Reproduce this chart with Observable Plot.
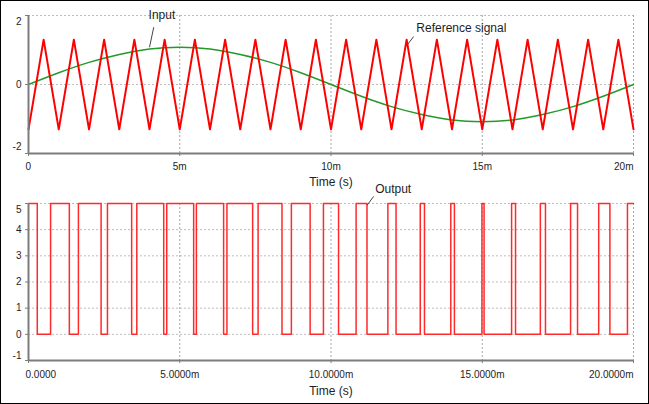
<!DOCTYPE html>
<html><head><meta charset="utf-8">
<script src="https://cdn.jsdelivr.net/npm/d3@7"></script>
<script src="https://cdn.jsdelivr.net/npm/@observablehq/plot@0.6"></script>
<style>
body{margin:0;background:#fff;}
#wrap{position:relative;width:649px;height:404px;overflow:hidden;background:#fff;}
#wrap svg{position:absolute;left:0;overflow:visible;}
#border{position:absolute;left:0;top:0;width:649px;height:404px;box-sizing:border-box;border:1px solid #000;pointer-events:none;z-index:5;}
</style></head><body>
<div id="wrap"><div id="border"></div></div>
<script>
// ---- data (time in ms) ----
const triTimes = [0,0.5,1,1.5,2,2.5,3,3.5,4,4.5,5,5.5,6,6.5,7,7.5,8,8.5,9,9.5,10,10.5,11,11.5,12,12.5,13,13.5,14,14.5,15,15.5,16,16.5,17,17.5,18,18.5,19,19.5,20];
const triValues = [-1.3,1.3,-1.3,1.3,-1.3,1.3,-1.3,1.3,-1.3,1.3,-1.3,1.3,-1.3,1.3,-1.3,1.3,-1.3,1.3,-1.3,1.3,-1.3,1.3,-1.3,1.3,-1.3,1.3,-1.3,1.3,-1.3,1.3,-1.3,1.3,-1.3,1.3,-1.3,1.3,-1.3,1.3,-1.3,1.3,-1.3];
const refTimes = [0,1,2,3,4,5,6,7,8,9,10,11,12,13,14,15,16,17,18,19,20];
const refValues = [0,0.34,0.64,0.87,1.03,1.08,1.03,0.87,0.64,0.34,0,-0.34,-0.64,-0.87,-1.03,-1.08,-1.03,-0.87,-0.64,-0.34,0];
const outTimes = [0,0.29,0.73,1.35,1.65,2.40,2.61,3.41,3.58,4.47,4.57,5.46,5.55,6.45,6.56,7.41,7.59,8.38,8.69,9.31,9.75,10.25,10.83,11.19,11.88,12.15,12.95,13.09,13.96,14.08,14.99,15.06,15.97,16.10,16.92,17.09,17.92,18.15,18.85,19.22,19.80,20];
const outLevels = [5,0,5,0,5,0,5,0,5,0,5,0,5,0,5,0,5,0,5,0,5,0,5,0,5,0,5,0,5,0,5,0,5,0,5,0,5,0,5,0,5,5];
const xTicks = [0,5,10,15,20];
const topXLabels = ["0","5m","10m","15m","20m"];
const bottomXLabels = ["0.0000","5.0000m","10.0000m","15.0000m","20.0000m"];
const topYTicks = [-2,0,2];
const bottomYTicks = [-1,0,1,2,3,4,5];
const xTitle = "Time (s)";
// annotations (anchor in data units)
const topNoteText = ["Input","Reference signal"];
const topNoteT = [3.97,12.82];
const topNoteV = [2.0,1.62];
const topLeadT1 = [4.14,12.73], topLeadV1 = [1.66,1.39], topLeadT2 = [4.0,12.51], topLeadV2 = [1.08,1.13];
const botNoteText = ["Output"];
const botNoteT = [11.46], botNoteV = [5.53];
const botLeadT1 = [11.41], botLeadV1 = [5.27], botLeadT2 = [11.19], botLeadV2 = [4.93];

const FONT = "Liberation Sans, Arial, sans-serif";
const AXIS = "#7c7c7c", GRID_H = "#bdbdbd", GRID_V = "#a6a6a6", TXT = "#1e1e1e";
const style = {background:"transparent", overflow:"visible", fontFamily:FONT, fontSize:"10px", color:TXT};

const triData = triTimes.map((t,i)=>({t, v:triValues[i]}));
const refData = refTimes.map((t,i)=>({t, v:refValues[i]}));
const outData = outTimes.map((t,i)=>({t, v:outLevels[i]}));
const idx = (arr)=>arr.map((_,i)=>i);
const plainNum = d => String(d);

function xAxisMarks(labels, pad){
  const f = d => labels[xTicks.indexOf(d)];
  const common = {tickSize:0, tickPadding:3+pad, tickFormat:f, fill:TXT, fontSize:10, label:null};
  return [
    Plot.axisX(xTicks, {tickSize:3, tickFormat:()=>"", stroke:AXIS, label:null}),
    Plot.axisX([xTicks[0]], {...common, textAnchor:"start", dx:-3}),
    Plot.axisX(xTicks.slice(1,-1), {...common}),
    Plot.axisX([xTicks[xTicks.length-1]], {...common, textAnchor:"end"})
  ];
}
function yAxisMarks(ticks, dTop, dBot){
  const common = {tickSize:0, tickPadding:7, tickFormat:plainNum, fill:TXT, fontSize:10, label:null};
  return [
    Plot.axisY(ticks, {tickSize:3, tickFormat:()=>"", stroke:AXIS, label:null}),
    Plot.axisY(ticks.slice(1,-1), common),
    Plot.axisY([ticks[ticks.length-1]], {...common, dy:dTop}),
    Plot.axisY([ticks[0]], {...common, dy:dBot})
  ];
}

const topPlot = Plot.plot({
  width:649, height:195,
  marginTop:15, marginBottom:42, marginLeft:28, marginRight:16,
  x:{domain:[0,20], axis:null, label:null},
  y:{domain:[-2,2], axis:null, label:null},
  style,
  marks:[
    Plot.ruleY([0,2], {stroke:GRID_H, strokeDasharray:"2,2"}),
    Plot.ruleX([5,10,15,20], {stroke:GRID_V, strokeDasharray:"2,2"}),
    Plot.line(refData, {x:"t", y:"v", stroke:"#23992a", strokeWidth:1.4, curve:"natural"}),
    Plot.line(triData, {x:"t", y:"v", stroke:"#ff0000", strokeWidth:2}),
    Plot.ruleX([0], {stroke:AXIS, strokeWidth:2}),
    Plot.ruleY([-2], {stroke:AXIS, strokeWidth:2}),
    ...xAxisMarks(topXLabels, 6.5),
    ...yAxisMarks(topYTicks, 6.7, -6.3),
    Plot.text([xTitle], {frameAnchor:"bottom", lineAnchor:"top", dy:23.5, fontSize:12, fill:TXT}),
    Plot.link(idx(topNoteText), {x1:i=>topLeadT1[i], y1:i=>topLeadV1[i], x2:i=>topLeadT2[i], y2:i=>topLeadV2[i], stroke:"#444", strokeWidth:1}),
    Plot.text(idx(topNoteText), {x:i=>topNoteT[i], y:i=>topNoteV[i], text:i=>topNoteText[i], textAnchor:"start", fontSize:12, fill:TXT})
  ]
});

const botPlot = Plot.plot({
  width:649, height:226,
  marginTop:25, marginBottom:44, marginLeft:28, marginRight:16,
  x:{domain:[0,20], axis:null, label:null},
  y:{domain:[-1,5], axis:null, label:null},
  style,
  marks:[
    Plot.ruleY([0,1,2,3,4,5], {stroke:GRID_H, strokeDasharray:"2,2"}),
    Plot.ruleX([5,10,15,20], {stroke:GRID_V, strokeDasharray:"2,2"}),
    Plot.line(outData, {x:"t", y:"v", stroke:"#ff2a2a", strokeWidth:1.5, curve:"step-after"}),
    Plot.ruleX([0], {stroke:AXIS, strokeWidth:2}),
    Plot.ruleY([-1], {stroke:AXIS, strokeWidth:2}),
    ...xAxisMarks(bottomXLabels, 7),
    ...yAxisMarks(bottomYTicks, 6, -5),
    Plot.text([xTitle], {frameAnchor:"bottom", lineAnchor:"top", dy:25.5, fontSize:12, fill:TXT}),
    Plot.link(idx(botNoteText), {x1:i=>botLeadT1[i], y1:i=>botLeadV1[i], x2:i=>botLeadT2[i], y2:i=>botLeadV2[i], stroke:"#444", strokeWidth:1}),
    Plot.text(idx(botNoteText), {x:i=>botNoteT[i], y:i=>botNoteV[i], text:i=>botNoteText[i], textAnchor:"start", fontSize:12, fill:TXT})
  ]
});

const wrap = document.getElementById("wrap");
topPlot.style.top = "0px";
botPlot.style.top = "178px";
wrap.appendChild(topPlot);
wrap.appendChild(botPlot);
</script>
</body></html>
